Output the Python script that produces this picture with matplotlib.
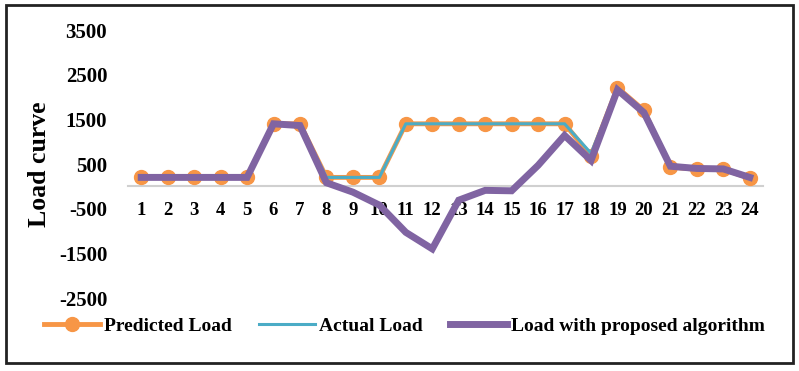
import matplotlib
matplotlib.use("Agg")
import matplotlib.pyplot as plt
from matplotlib.patches import Rectangle

plt.rcParams["font.family"] = "Liberation Serif"
plt.rcParams["font.weight"] = "bold"
plt.rcParams["axes.unicode_minus"] = False

hours = list(range(1, 25))
predicted = [200, 200, 200, 200, 200, 1400, 1400, 200, 200, 200, 1400, 1400,
             1400, 1400, 1400, 1400, 1400, 680, 2210, 1700, 430, 380, 380, 180]
actual = [200, 200, 200, 200, 200, 1400, 1400, 200, 200, 200, 1400, 1400,
          1400, 1400, 1400, 1400, 1400, 740, 2200, 1680, 440, 390, 390, 190]
proposed = [200, 200, 200, 200, 200, 1400, 1360, 80, -130, -420, -1030, -1400,
            -310, -90, -100, 470, 1140, 580, 2160, 1650, 450, 400, 390, 200]
y_ticks = [-2500, -1500, -500, 500, 1500, 2500, 3500]

c_pred = "#F79646"
c_act = "#4BACC6"
c_prop = "#8064A2"

fig = plt.figure(figsize=(7.99, 3.71), dpi=100)
ax = fig.add_axes([128 / 799, 1 - 298 / 371, 635 / 799, 268 / 371])

ax.plot(hours, predicted, color=c_pred, lw=3.5, marker="o", ms=10,
        label="Predicted Load", zorder=3)
ax.plot(hours, actual, color=c_act, lw=2.2, label="Actual Load", zorder=4)
ax.plot(hours, proposed, color=c_prop, lw=5, label="Load with proposed algorithm",
        zorder=5, solid_joinstyle="miter")

ax.set_xlim(0.5, 24.5)
ax.set_ylim(-2500, 3500)
ax.set_yticks(y_ticks)
ax.set_xticks(hours)
ax.tick_params(axis="y", length=0, pad=15, labelsize=15)
ax.tick_params(axis="x", length=0, pad=11.5, labelsize=13.5)
for lab in ax.get_xticklabels() + ax.get_yticklabels():
    lab.set_fontweight("bold")

for s in ["top", "right", "left"]:
    ax.spines[s].set_visible(False)
ax.spines["bottom"].set_position(("data", 0))
ax.spines["bottom"].set_color("#d0d0d0")
ax.spines["bottom"].set_linewidth(1.5)
ax.spines["bottom"].set_zorder(1)

ax.set_ylabel("Load curve", fontsize=18.5, fontweight="bold")
ax.yaxis.set_label_coords(-0.122, 0.5)

fig.legend(loc="center", bbox_to_anchor=(404 / 799, 1 - 326 / 371), ncol=3,
           frameon=False, fontsize=14, handlelength=2.9, handletextpad=0.2,
           columnspacing=1.4, markerscale=1.0)

fig.patches.append(Rectangle((6 / 799, 1 - 363 / 371), 787 / 799, 358 / 371,
                             transform=fig.transFigure, fill=False,
                             edgecolor="#222222", lw=2))

fig.savefig("out.png", dpi=100)
